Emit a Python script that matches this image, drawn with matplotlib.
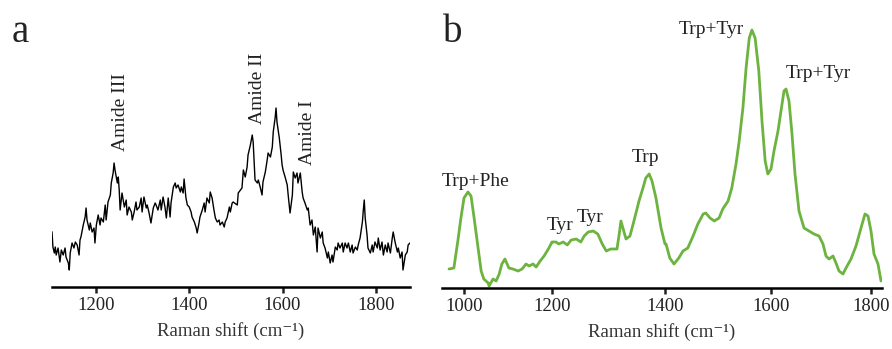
import numpy as np
import matplotlib
matplotlib.use("Agg")
import matplotlib.pyplot as plt

# ---------------- Panel a: protein Raman spectrum (black, noisy) ----------------
shift_a = [1106, 1108, 1111, 1113, 1115, 1119, 1123, 1126, 1130, 1134, 1136, 1141, 1143, 1145,
           1149, 1153, 1156, 1160, 1164, 1166, 1168, 1173, 1177, 1179, 1181, 1186, 1188, 1192,
           1196, 1198, 1201, 1205, 1209, 1211, 1216, 1220, 1222, 1226, 1231, 1233, 1237, 1239,
           1241, 1246, 1248, 1250, 1252, 1256, 1261, 1265, 1267, 1271, 1276, 1278, 1282, 1286,
           1288, 1293, 1297, 1299, 1303, 1308, 1310, 1314, 1318, 1323, 1327, 1329, 1333, 1338,
           1340, 1344, 1348, 1351, 1355, 1359, 1361, 1366, 1370, 1372, 1376, 1381, 1383, 1387,
           1389, 1393, 1396, 1400, 1404, 1406, 1411, 1415, 1417, 1421, 1423, 1428, 1432, 1434,
           1438, 1443, 1445, 1449, 1453, 1456, 1460, 1464, 1466, 1471, 1475, 1477, 1481, 1486,
           1488, 1492, 1494, 1503, 1505, 1513, 1516, 1520, 1524, 1526, 1531, 1535, 1537, 1541,
           1546, 1548, 1552, 1556, 1558, 1563, 1567, 1569, 1574, 1578, 1580, 1584, 1586, 1588,
           1593, 1597, 1599, 1601, 1606, 1610, 1612, 1616, 1621, 1623, 1627, 1631, 1633, 1638,
           1642, 1644, 1648, 1653, 1655, 1659, 1663, 1666, 1670, 1674, 1676, 1681, 1685, 1687,
           1691, 1696, 1698, 1702, 1706, 1708, 1713, 1717, 1719, 1723, 1728, 1730, 1734, 1738,
           1741, 1745, 1749, 1751, 1756, 1760, 1762, 1766, 1771, 1773, 1775, 1777, 1781, 1783,
           1788, 1792, 1794, 1798, 1803, 1805, 1809, 1813, 1816, 1820, 1824, 1826, 1831, 1835,
           1837, 1841, 1846, 1848, 1852, 1856, 1858, 1863, 1867, 1869, 1873]
inten_a = [55, 40, 34, 40, 32, 39, 25, 37, 32, 39, 30, 24, 17, 34,
           44, 39, 45, 42, 32, 47, 50, 62, 70, 79, 67, 57, 64, 55,
           59, 44, 62, 72, 62, 69, 65, 82, 67, 85, 92, 104, 114, 124,
           117, 104, 110, 97, 77, 94, 80, 87, 72, 80, 75, 67, 75, 85,
           77, 80, 89, 75, 90, 79, 82, 74, 64, 79, 84, 82, 77, 87,
           77, 90, 80, 69, 89, 70, 84, 100, 104, 99, 102, 95, 100, 94,
           108, 89, 82, 80, 75, 70, 65, 59, 54, 64, 70, 77, 84, 75,
           89, 84, 95, 89, 77, 69, 65, 67, 62, 65, 60, 65, 69, 80,
           75, 84, 85, 82, 94, 99, 117, 110, 120, 132, 142, 152, 145, 107,
           104, 107, 100, 92, 105, 115, 127, 134, 130, 140, 155, 169, 179, 165,
           149, 132, 122, 117, 109, 102, 92, 74, 92, 115, 109, 114, 104, 114,
           95, 89, 84, 77, 79, 62, 67, 52, 60, 35, 59, 49, 55, 44,
           39, 29, 35, 24, 32, 25, 40, 37, 44, 39, 44, 35, 44, 39,
           44, 35, 42, 34, 40, 37, 42, 49, 65, 77, 87, 69, 52, 39,
           34, 42, 35, 45, 39, 49, 37, 45, 32, 42, 35, 44, 34, 49,
           55, 45, 35, 39, 29, 35, 17, 32, 35, 42, 44]

# ---------------- Panel b: aromatic amino acids spectrum (green, smooth) ----------------
shift_b = [966, 977, 986, 993, 1000, 1009, 1016, 1023, 1032, 1039, 1045, 1055, 1057, 1066,
           1073, 1080, 1086, 1093, 1102, 1111, 1123, 1132, 1141, 1148, 1157, 1164, 1173, 1182,
           1193, 1200, 1202, 1207, 1212, 1220, 1227, 1234, 1243, 1251, 1257, 1264, 1273, 1281,
           1289, 1296, 1304, 1315, 1319, 1322, 1326, 1331, 1338, 1345, 1354, 1361, 1366, 1372,
           1377, 1384, 1393, 1400, 1402, 1409, 1417, 1426, 1434, 1443, 1453, 1462, 1472, 1477,
           1485, 1493, 1502, 1509, 1519, 1526, 1534, 1540, 1547, 1553, 1559, 1564, 1570, 1577,
           1583, 1589, 1594, 1600, 1606, 1614, 1620, 1626, 1630, 1636, 1642, 1648, 1656, 1666,
           1676, 1686, 1696, 1704, 1710, 1716, 1724, 1730, 1736, 1744, 1750, 1760, 1770, 1780,
           1788, 1794, 1800, 1806, 1814, 1820]
inten_b = [19, 20, 47, 70, 90, 96, 92, 70, 40, 17, 9, 5, 2, 9,
           7, 14, 24, 29, 20, 19, 17, 19, 24, 22, 24, 21, 27, 32,
           40, 46, 46, 46, 44, 46, 43, 48, 49, 46, 52, 56, 57, 54,
           44, 37, 39, 39, 54, 67, 59, 49, 52, 67, 87, 100, 110, 114,
           107, 90, 60, 44, 44, 30, 24, 30, 37, 40, 52, 64, 74, 75,
           70, 67, 70, 79, 87, 100, 124, 147, 180, 220, 250, 258, 250, 217,
           167, 127, 114, 119, 137, 157, 177, 197, 199, 187, 154, 114, 77, 60,
           57, 54, 52, 44, 32, 29, 32, 25, 17, 14, 20, 29, 42, 60,
           74, 72, 57, 34, 24, 7]

# labels
labels_a = ["Amide III", "Amide II", "Amide I"]
label_a_pos = [(1252, 175), (1546, 199), (1653, 154)]
labels_b = ["Trp+Phe", "Tyr", "Tyr", "Trp", "Trp+Tyr", "Trp+Tyr"]
label_b_pos = [(1027, 107), (1214, 62), (1267, 70), (1365, 130), (1487, 259), (1694, 214)]
ticks_a = [1200, 1400, 1600, 1800]
ticks_b = [1000, 1200, 1400, 1600, 1800]

FONT = ["Liberation Serif", "DejaVu Serif"]
plt.rcParams["font.family"] = FONT

fig = plt.figure(figsize=(8.92, 3.49), dpi=100)
W, H = 892.0, 349.0

# panel a axes
ax1 = fig.add_axes([52 / W, 1 - 287 / H, (410 - 52) / W, 287 / H])
# panel b axes
ax2 = fig.add_axes([442 / W, 1 - 288 / H, (882 - 442) / W, 288 / H])

# the reference's panel-b axis is not evenly spaced; reproduce with a piecewise scale
anchor_val = np.array([900, 1000, 1200, 1400, 1600, 1800, 1900])
anchor_pos = np.array([-22.0, 22.0, 110.0, 223.0, 329.0, 429.0, 479.0])
def fwd(x):
    return np.interp(x, anchor_val, anchor_pos)
def inv(y):
    return np.interp(y, anchor_pos, anchor_val)

ax1.plot(shift_a, inten_a, color="black", lw=1.0)
ax2.plot(shift_b, inten_b, color="#6db33f", lw=2.0, solid_capstyle="round")
ax2.set_xscale("function", functions=(fwd, inv))

ax1.set_xlim(1106, 1873)
ax2.set_xlim(950, 1822)
ax1.set_ylim(0, 287)
ax2.set_ylim(0, 288)

for ax, ticks in ((ax1, ticks_a), (ax2, ticks_b)):
    for s in ("left", "right", "top"):
        ax.spines[s].set_visible(False)
    ax.spines["bottom"].set_linewidth(1.8)
    ax.set_yticks([])
    ax.set_xticks(ticks)
    ax.set_xticklabels([str(t) for t in ticks])
    ax.xaxis.set_minor_locator(matplotlib.ticker.NullLocator())
    ax.tick_params(axis="x", direction="out", length=4, width=1.8, labelsize=13.5, pad=3,
                   colors="#222222")
    ax.set_xlabel("Raman shift (cm\u207b\u00b9)", fontsize=13.5, labelpad=6, color="#333333")
    ax.patch.set_visible(False)

for txt, (x, y) in zip(labels_a, label_a_pos):
    ax1.text(x, y, txt, rotation=90, ha="center", va="center", fontsize=14, color="#222222")
for txt, (x, y) in zip(labels_b, label_b_pos):
    ax2.text(x, y, txt, ha="center", va="center", fontsize=14, color="#222222")

fig.text(12 / W, 1 - 42 / H, "a", fontsize=28, ha="left", va="baseline", color="#222222")
fig.text(443 / W, 1 - 42 / H, "b", fontsize=28, ha="left", va="baseline", color="#222222")

fig.savefig("out.png", dpi=100)
